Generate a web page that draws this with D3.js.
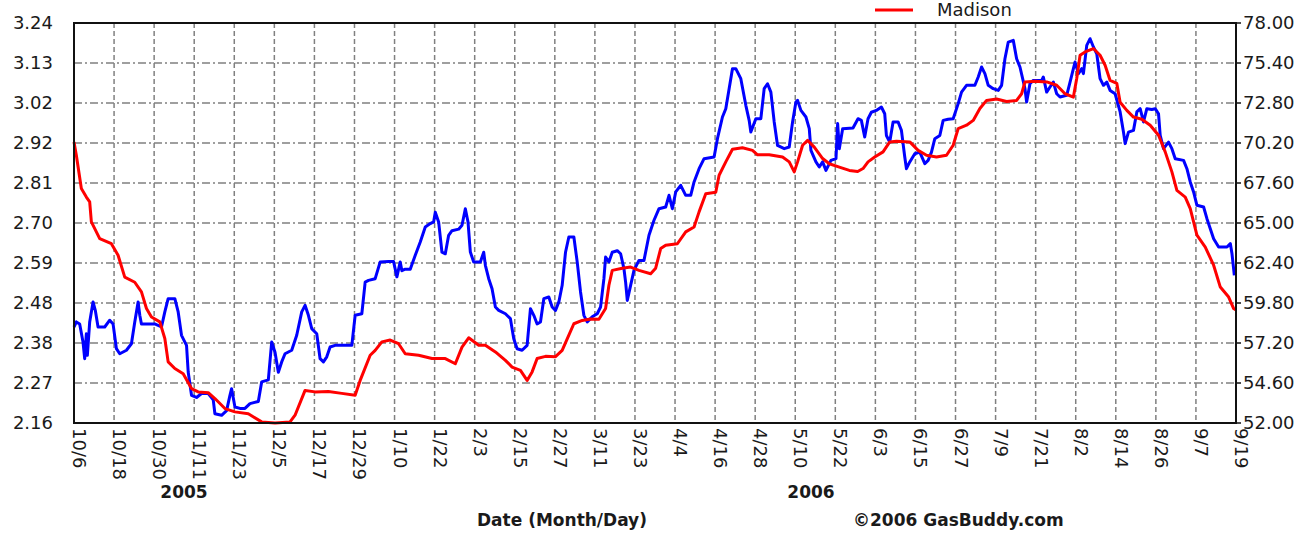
<!DOCTYPE html>
<html>
<head>
<meta charset="utf-8">
<script src="https://cdn.jsdelivr.net/npm/d3@7"></script>
<style>
  body { margin: 0; background: #fff; }
  svg { display: block; }
  text { font-family: "DejaVu Sans", sans-serif; fill: #1a1a1a; }
</style>
</head>
<body>
<div id="chart"></div>
<script>
// x categories (every 12 days from 10/6/2005)
const tickLabels = ["10/6","10/18","10/30","11/11","11/23","12/5","12/17","12/29","1/10","1/22",
  "2/3","2/15","2/27","3/11","3/23","4/4","4/16","4/28","5/10","5/22",
  "6/3","6/15","6/27","7/9","7/21","8/2","8/14","8/26","9/7","9/19"];
const leftLabels = ["2.16","2.27","2.38","2.48","2.59","2.70","2.81","2.92","3.02","3.13","3.24"];
const rightLabels = ["52.00","54.60","57.20","59.80","62.40","65.00","67.60","70.20","72.80","75.40","78.00"];

// Madison gas price (left axis), day offset from 10/6/2005
const madisonDay = [0,0.7,2.2,3.7,4.7,5.2,7.7,11.2,13.2,15.2,18.2,20.2,21.7,23.2,25.7,27.2,28.2,30.2,32.7,35.2,
  37.2,40.2,42.2,45.2,48.2,52.2,56.2,60.2,64.7,66.2,69.2,72.2,76.2,80.2,84.2,85.7,88.7,90.2,92.2,94.7,
  97.2,99.2,103.2,107.2,111.2,114.2,116.2,118.2,121.2,123.2,126.2,129.2,131.2,133.7,135.7,137.2,138.7,141.2,144.2,146.2,
  148.2,149.7,152.2,154.7,157.2,159.2,160.2,161.2,164.2,166.7,169.2,172.7,174.2,175.7,177.2,180.7,183.2,185.7,187.2,189.2,
  192.2,193.2,195.2,197.2,200.2,203.2,204.7,208.2,212.2,214.2,215.7,216.7,218.2,219.7,221.7,224.2,226.2,229.2,232.2,234.7,
  236.3,237.8,239.8,242.3,244.3,246.3,250.3,252.8,255.3,258.3,261.3,263.3,264.8,267.3,269.3,271.3,273.3,276.3,279.3,282.3,
  283.8,284.8,287.8,291.3,294.3,296.8,299.3,300.3,301.3,302.8,305.3,307.3,308.8,310.3,312.3,313.3,315.3,317.3,319.8,322.3,
  324.8,326.8,328.8,330.3,332.8,334.3,336.3,338.8,341.3,343.3,345.8,347.3,348];
const madisonPrice = [2.919,2.883,2.793,2.77,2.757,2.703,2.658,2.644,2.613,2.554,2.54,2.514,2.469,2.446,2.433,2.388,2.325,2.307,2.293,2.253,
  2.244,2.242,2.226,2.199,2.19,2.185,2.163,2.16,2.163,2.181,2.248,2.244,2.245,2.24,2.235,2.275,2.343,2.356,2.379,2.384,
  2.374,2.347,2.343,2.334,2.334,2.32,2.365,2.39,2.37,2.37,2.352,2.329,2.311,2.302,2.275,2.298,2.334,2.34,2.339,2.356,
  2.397,2.428,2.437,2.441,2.44,2.469,2.532,2.572,2.578,2.581,2.572,2.563,2.578,2.631,2.64,2.644,2.676,2.689,2.73,2.779,
  2.783,2.829,2.865,2.899,2.903,2.896,2.884,2.884,2.878,2.865,2.838,2.865,2.91,2.923,2.905,2.874,2.86,2.851,2.842,2.839,
  2.847,2.865,2.878,2.892,2.919,2.921,2.919,2.896,2.883,2.878,2.883,2.91,2.955,2.964,2.977,3.009,3.031,3.035,3.028,3.031,
  3.049,3.081,3.083,3.081,3.072,3.049,3.04,3.09,3.153,3.162,3.171,3.153,3.126,3.085,3.077,3.026,3.004,2.986,2.98,2.964,
  2.937,2.892,2.838,2.788,2.77,2.739,2.667,2.635,2.586,2.527,2.5,2.469,2.465];

// crude oil (right axis)
const crudeDay = [0,0.7,1.7,2.7,3.2,3.7,4.0,4.7,5.7,6.4,7.2,9.2,10.7,11.7,12.7,13.7,15.7,17.2,18.2,19.2,
  19.7,20.2,24.2,26.2,27.2,28.2,30.2,31.2,32.2,33.7,34.2,35.2,36.7,38.2,40.2,41.7,42.2,44.2,45.7,46.7,
  47.2,48.2,49.7,51.2,52.7,55.2,56.2,58.2,59.2,60.2,61.2,62.2,63.2,65.2,66.7,68.2,69.2,70.2,71.2,72.7,
  73.7,74.7,75.7,76.7,78.2,83.2,84.2,86.2,87.2,88.2,90.2,91.7,94.2,95.7,96.7,97.7,98.2,99.2,100.7,102.2,
  103.7,105.2,106.7,107.7,108.2,109.2,110.2,111.2,112.2,113.2,115.2,116.2,117.2,118,118.7,119.7,121.7,122.7,123.2,124.2,
  125.2,126.2,127.2,129.2,130.7,131.7,132.7,134.2,135.7,136.7,137.7,138.7,139.7,140.7,142.2,143.2,144.2,145.2,146.2,147.2,
  148.2,149.7,150.7,151.7,152.7,153.7,155.2,156.7,157.7,158.7,159.2,160.2,161.2,162.7,163.7,164.7,165.2,165.7,166.7,167.7,
  169.2,170.7,172.2,173.7,175.2,177.2,178.2,179.2,180.2,181.7,183.2,184.7,185.7,187.2,188.7,191.7,192.7,194.2,195.2,196.2,
  197.2,198.2,199.7,201.2,202.2,202.7,204.2,205.7,206.7,207.7,208.7,209.7,210.7,212.7,214.2,215.2,216.2,216.7,217.7,219.2,
  220.2,220.7,222.2,223.2,224.2,225.2,226.7,228.2,228.7,229.2,230.2,233.3,234.8,235.8,236.8,237.8,238.8,240.3,241.8,242.8,
  243.3,244.3,245.3,246.8,247.8,248.8,249.3,250.3,251.8,253.3,254.8,255.8,256.8,257.8,259.3,260.3,261.8,263.3,264.8,265.8,
  267.3,269.8,270.8,271.8,272.8,273.8,275.3,276.8,277.8,278.8,279.8,281.3,282.3,283.3,284.8,285.3,286.3,287.3,289.8,290.3,
  291.3,292.3,293.3,294.3,295.3,297.3,298.3,299.3,299.8,300.8,301.8,302.3,303.3,304.3,305.3,306.3,307.3,308.3,309.3,310.3,
  311.8,313.3,314.3,314.8,315.8,317.3,318.3,319.3,320.3,321.3,322.8,323.8,324.8,325.3,326.3,327.8,328.8,329.8,332.3,333.3,
  334.3,335.3,336.3,338.3,339.3,340.3,341.3,342.8,345.3,346.3,346.8,347.5];
const crudePrice = [58.24,58.57,58.44,57.26,56.18,57.8,56.4,58.57,59.87,59.3,58.24,58.24,58.68,58.44,56.83,56.5,56.73,57.15,58.57,59.87,
  59.0,58.44,58.44,58.24,59.22,60.08,60.08,59.22,57.7,57.05,55.31,53.8,53.66,53.92,53.92,53.5,52.6,52.5,52.8,53.8,
  54.23,53.04,52.95,52.95,53.26,53.4,54.67,54.8,57.26,56.6,55.3,55.97,56.5,56.73,57.7,59.22,59.65,59.0,58.13,57.8,
  56.18,55.97,56.3,56.94,57.05,57.05,59.0,59.1,61.16,61.27,61.38,62.47,62.5,62.5,61.5,62.47,61.9,62.0,62.0,62.9,
  63.77,64.74,64.96,65.07,65.7,65.07,63.1,63.0,64.2,64.5,64.6,64.85,65.93,65.07,63.11,62.47,62.47,63.1,62.25,61.38,
  60.73,59.54,59.32,59.1,58.78,57.48,56.83,56.73,57.05,59.43,59.0,58.44,58.57,60.08,60.19,59.54,59.32,59.87,60.95,63.1,
  64.09,64.09,62.47,60.52,59.0,58.57,58.9,59.1,59.54,61.38,62.79,62.47,63.1,63.2,63.0,62.03,61.16,59.97,60.95,61.92,
  62.57,62.57,64.2,65.18,65.93,66.04,66.8,65.93,67.02,67.45,66.8,66.8,67.67,68.53,69.18,69.29,70.48,71.89,72.43,73.73,
  75.03,75.03,74.38,72.65,71.67,70.91,71.78,71.78,73.73,74.05,73.51,71.57,70.04,69.83,69.94,71.57,72.86,72.97,72.32,71.89,
  71.13,69.72,68.97,68.64,68.97,68.42,69.07,69.18,71.46,69.83,71.13,71.18,71.78,71.67,70.59,71.78,72.2,72.32,72.54,72.1,
  70.69,70.26,71.57,71.57,71.02,69.29,68.53,68.97,69.5,69.61,68.86,69.07,69.61,70.48,70.69,71.67,71.74,71.78,72.76,73.51,
  73.95,73.95,74.49,75.14,74.71,73.95,73.73,73.62,73.95,75.68,76.76,76.87,75.68,75.14,73.73,72.86,74.06,74.27,74.27,74.49,
  73.51,73.84,74.16,73.4,73.19,73.3,74.16,75.03,75.46,74.71,75.03,74.71,76.55,76.98,76.44,76.0,74.38,73.95,74.16,73.62,
  73.4,72.22,70.91,70.16,70.91,71.02,72.22,72.43,71.57,72.43,72.38,72.43,72.1,70.69,69.83,70.26,69.83,69.18,69.07,68.53,
  67.67,67.02,66.15,66.04,65.28,64.63,63.98,63.44,63.44,63.66,63.0,61.6];

const W = 1313, H = 533;
const plotLeft = 74, plotRight = 1236, plotTop = 23, plotBottom = 423;

const svg = d3.select("#chart").append("svg")
  .attr("width", W)
  .attr("height", H);

const x = d3.scaleLinear()
  .domain([0, (tickLabels.length - 1) * 12])
  .range([plotLeft, plotRight]);

const yLeft = d3.scaleLinear().domain([2.16, 3.24]).range([plotBottom, plotTop]);
const yRight = d3.scaleLinear().domain([52, 78]).range([plotBottom, plotTop]);

const xTicks = tickLabels.map((d, i) => i * 12);
const yTicks = leftLabels.map((d, i) => 2.16 + i * 0.108);
const yRTicks = rightLabels.map(d => +d);

// grid
svg.append("g")
  .selectAll("line")
  .data(xTicks.slice(1, -1))
  .enter()
  .append("line")
  .attr("x1", d => x(d)).attr("x2", d => x(d))
  .attr("y1", plotTop).attr("y2", plotBottom)
  .attr("stroke", "#808080")
  .attr("stroke-width", 1.5)
  .attr("stroke-dasharray", "5,3");

svg.append("g")
  .selectAll("line")
  .data(yTicks.slice(1, -1))
  .enter()
  .append("line")
  .attr("x1", plotLeft).attr("x2", plotRight)
  .attr("y1", d => yLeft(d)).attr("y2", d => yLeft(d))
  .attr("stroke", "#808080")
  .attr("stroke-width", 1.5)
  .attr("stroke-dasharray", "8,3,2,3");

// lines
const madison = madisonDay.map((d, i) => [d, madisonPrice[i]]);
const crude = crudeDay.map((d, i) => [d, crudePrice[i]]);

svg.append("path")
  .datum(crude)
  .attr("fill", "none")
  .attr("stroke", "#0000ff")
  .attr("stroke-width", 3)
  .attr("stroke-linejoin", "round")
  .attr("d", d3.line().x(d => x(d[0])).y(d => yRight(d[1])));

svg.append("path")
  .datum(madison)
  .attr("fill", "none")
  .attr("stroke", "#ff0000")
  .attr("stroke-width", 3)
  .attr("stroke-linejoin", "round")
  .attr("d", d3.line().x(d => x(d[0])).y(d => yLeft(d[1])));

// frame
svg.append("rect")
  .attr("x", plotLeft).attr("y", plotTop)
  .attr("width", plotRight - plotLeft).attr("height", plotBottom - plotTop)
  .attr("fill", "none")
  .attr("stroke", "#111")
  .attr("stroke-width", 2);

// left axis labels
svg.append("g")
  .selectAll("text")
  .data(yTicks)
  .enter()
  .append("text")
  .attr("x", plotLeft - 21)
  .attr("y", d => yLeft(d))
  .attr("dy", "0.36em")
  .attr("text-anchor", "end")
  .style("font-size", "18px")
  .text((d, i) => leftLabels[i]);

// right axis ticks + labels
svg.append("g")
  .selectAll("line")
  .data(yRTicks)
  .enter()
  .append("line")
  .attr("x1", plotRight).attr("x2", plotRight + 5)
  .attr("y1", d => yRight(d)).attr("y2", d => yRight(d))
  .attr("stroke", "#111")
  .attr("stroke-width", 1.5);

svg.append("g")
  .selectAll("text")
  .data(yRTicks)
  .enter()
  .append("text")
  .attr("x", plotRight + 7)
  .attr("y", d => yRight(d))
  .attr("dy", "0.36em")
  .style("font-size", "18px")
  .text((d, i) => rightLabels[i]);

// x labels, rotated
svg.append("g")
  .selectAll("text")
  .data(xTicks)
  .enter()
  .append("text")
  .attr("transform", d => `translate(${x(d) - 1},${plotBottom + 5}) rotate(90)`)
  .style("font-size", "18px")
  .text((d, i) => tickLabels[i]);

// year labels
svg.append("text")
  .attr("x", 184).attr("y", 498)
  .attr("text-anchor", "middle")
  .style("font-size", "17px")
  .style("font-weight", "bold")
  .text("2005");

svg.append("text")
  .attr("x", 811).attr("y", 498)
  .attr("text-anchor", "middle")
  .style("font-size", "17px")
  .style("font-weight", "bold")
  .text("2006");

svg.append("text")
  .attr("x", 477).attr("y", 526)
  .style("font-size", "17px")
  .style("font-weight", "bold")
  .text("Date (Month/Day)");

svg.append("text")
  .attr("x", 853).attr("y", 526)
  .style("font-size", "17px")
  .style("font-weight", "bold")
  .text("©2006 GasBuddy.com");

// legend (partly cut off at top)
svg.append("line")
  .attr("x1", 875).attr("x2", 913)
  .attr("y1", 10).attr("y2", 10)
  .attr("stroke", "#ff0000")
  .attr("stroke-width", 3);

svg.append("text")
  .attr("x", 937).attr("y", 16)
  .style("font-size", "18px")
  .text("Madison");
</script>
</body>
</html>
